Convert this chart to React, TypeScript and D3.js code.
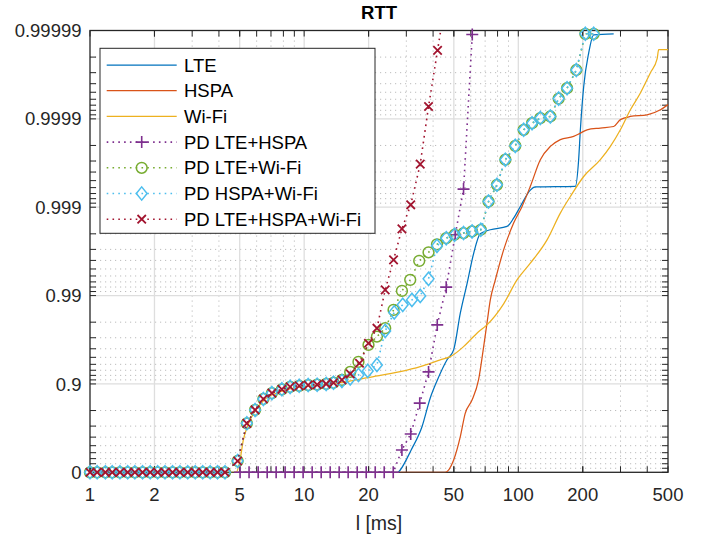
import React from 'react';
import * as d3 from 'd3';

// ---- data (latency in ms, cumulative probability) ----
const lteMs = [27.5, 28.1, 31.6, 35.5, 38.8, 41.7, 46.4, 49.9, 53.6, 57.6, 61.8, 66.4, 74.0, 88.6, 95.1, 102.2, 113.8, 120.1, 184.6, 191.3, 194.9, 202, 213.1, 224.9, 278.8];
const lteP = [0, 0.058, 0.441, 0.695, 0.856, 0.9075, 0.9465, 0.9588, 0.98418, 0.99263, 0.99663, 0.998, 0.9982, 0.99835, 0.99867, 0.99902, 0.99936, 0.99941, 0.99942, 0.99971, 0.999867, 0.999957, 0.999982, 0.9999888, 0.9999891];

const hspaMs = [27.5, 45.6, 49.9, 53.6, 56.5, 60.8, 65.2, 68.9, 71.4, 74.0, 78.1, 85.4, 95.1, 104.1, 113.8, 126.7, 141.1, 157.1, 181.3, 194.9, 209.4, 241.6, 278.8, 299.6, 333.7, 399.4, 460.9, 500];
const hspaP = [0, 0, 0.274, 0.605, 0.785, 0.848, 0.91, 0.9622, 0.97946, 0.98881, 0.99336, 0.99696, 0.99849, 0.99902, 0.99942, 0.99971, 0.999795, 0.999828, 0.999842, 0.999855, 0.999867, 0.999873, 0.999878, 0.999898, 0.999906, 0.99991, 0.999921, 0.999931];

const wifiMs = [1, 4.81, 5.02, 5.2, 5.4, 5.59, 6.45, 7.87, 9.48, 12.67, 15.83, 19.8, 28.1, 34.84, 43.2, 48.1, 55.5, 59.7, 64.1, 71.4, 85.4, 98.6, 113.8, 136.2, 157.1, 175, 202, 241.6, 269.1, 299.6, 333.7, 371.6, 413.9, 444.7, 452.4, 500];
const wifiP = [0, 0, 0.274, 0.569, 0.685, 0.744, 0.845, 0.879, 0.891, 0.899, 0.9058, 0.915, 0.9274, 0.9363, 0.9465, 0.9509, 0.9622, 0.96825, 0.97334, 0.97853, 0.9876, 0.99336, 0.9957, 0.99766, 0.998834, 0.999244, 0.999551, 0.99971, 0.999795, 0.999867, 0.999921, 0.999949, 0.99997, 0.999979, 0.9999835, 0.9999835];

const pdLteHspaMs = [5.02, 5.53, 6.1, 6.72, 7.4, 8.15, 8.98, 9.89, 10.9, 12.01, 13.23, 14.57, 16.05, 17.69, 19.49, 21.47, 23.65, 26.06, 28.61, 31.45, 34.65, 38.09, 41.83, 46.07, 50.77, 55.5, 60.95];
const pdLteHspaP = [0, 0, 0, 0, 0, 0, 0, 0, 0, 0, 0, 0, 0, 0, 0, 0, 0, 0, 0.441, 0.632, 0.835, 0.9269, 0.97853, 0.99197, 0.99795, 0.999376, 0.9999889];

// shared head of the three Wi-Fi combinations
const pdHeadMs = [1, 1.08, 1.18, 1.27, 1.38, 1.5, 1.62, 1.76, 1.91, 2.07, 2.24, 2.43, 2.63, 2.86, 3.1, 3.36, 3.64, 3.94, 4.27, 4.89, 5.4, 5.9, 6.45, 7.07, 7.87, 8.6, 9.48, 10.44, 11.5, 12.67, 13.71];
const pdHeadP = [0, 0, 0, 0, 0, 0, 0, 0, 0, 0, 0, 0, 0, 0, 0, 0, 0, 0, 0, 0.255, 0.721, 0.803, 0.852, 0.873, 0.885, 0.892, 0.895, 0.897, 0.898, 0.9, 0.903];

const pdLteWifiMs = [15.01, 16.41, 17.93, 19.97, 21.87, 23.9, 26.15, 28.61, 31.28, 34.46, 38.09, 41.7, 46.07, 50.4, 55.5, 60.8, 66.8, 72.6, 79.5, 87.0, 96.8, 105.9, 115.9, 126.7, 141.1, 154.3, 168.9, 186.6, 205.6, 224.9];
const pdLteWifiP = [0.91, 0.9269, 0.9437, 0.9638, 0.9709, 0.9766, 0.98548, 0.99115, 0.99336, 0.99595, 0.99676, 0.99737, 0.99776, 0.99795, 0.99804, 0.99812, 0.9982, 0.999138, 0.999442, 0.99971, 0.999798, 0.999867, 0.999888, 0.999902, 0.999906, 0.999941, 0.999955, 0.999972, 0.9999891, 0.9999891];

const pdHspaWifiMs = [15.01, 16.41, 17.93, 19.81, 21.87, 23.9, 26.34, 28.86, 31.86, 34.84, 38.09, 41.7, 46.07, 50.4, 55.5, 60.8, 66.8, 72.6, 79.5, 87.0, 96.8, 105.9, 115.9, 126.7, 141.1, 154.3, 168.9, 186.6, 205.6, 224.9];
const pdHspaWifiP = [0.9075, 0.9133, 0.9209, 0.9288, 0.9391, 0.9749, 0.9845, 0.98726, 0.98881, 0.98992, 0.99353, 0.99726, 0.99776, 0.99795, 0.99804, 0.99812, 0.9982, 0.999138, 0.999442, 0.99971, 0.999798, 0.999867, 0.999888, 0.999902, 0.999906, 0.999941, 0.999955, 0.999972, 0.9999891, 0.9999891];

const pdAllMs = [15.01, 16.41, 18.13, 19.97, 21.87, 23.9, 26.15, 28.61, 31.45, 34.84, 38.09, 41.97, 46.07];
const pdAllP = [0.91, 0.923, 0.9417, 0.9654, 0.9766, 0.99138, 0.99606, 0.998244, 0.999061, 0.999675, 0.9999276, 0.9999832, 0.999996];

const xTicks = [1, 2, 5, 10, 20, 50, 100, 200, 500];
const yTicks = [0, 0.9, 0.99, 0.999, 0.9999, 0.99999];
const yTickLabels = ['0', '0.9', '0.99', '0.999', '0.9999', '0.99999'];

type MarkerKind = 'none' | 'plus' | 'circle' | 'diamond' | 'x';
interface Series { name: string; color: string; ms: number[]; p: number[]; dotted: boolean; marker: MarkerKind; }

const series: Series[] = [
  { name: 'LTE', color: '#0072BD', ms: lteMs, p: lteP, dotted: false, marker: 'none' },
  { name: 'HSPA', color: '#D95319', ms: hspaMs, p: hspaP, dotted: false, marker: 'none' },
  { name: 'Wi-Fi', color: '#EDB120', ms: wifiMs, p: wifiP, dotted: false, marker: 'none' },
  { name: 'PD LTE+HSPA', color: '#7E2F8E', ms: pdLteHspaMs, p: pdLteHspaP, dotted: true, marker: 'plus' },
  { name: 'PD LTE+Wi-Fi', color: '#77AC30', ms: pdHeadMs.concat(pdLteWifiMs), p: pdHeadP.concat(pdLteWifiP), dotted: true, marker: 'circle' },
  { name: 'PD HSPA+Wi-Fi', color: '#4DBEEE', ms: pdHeadMs.concat(pdHspaWifiMs), p: pdHeadP.concat(pdHspaWifiP), dotted: true, marker: 'diamond' },
  { name: 'PD LTE+HSPA+Wi-Fi', color: '#A2142F', ms: pdHeadMs.concat(pdAllMs), p: pdHeadP.concat(pdAllP), dotted: true, marker: 'x' },
];

const W = 710, H = 538;
const left = 90, right = 668, top = 30.5, bottom = 472.3;
const FONT = '"Liberation Sans", Arial, Helvetica, sans-serif';
const AX = '#262626';

const xScale = d3.scaleLog().domain([1, 500]).range([left, right]);
// y axis is logarithmic in the tail probability 1-p
const yScale = d3.scaleLog().domain([1, 1e-5]).range([bottom, top]);
const yPos = (p: number) => yScale(1 - p);

const Marker: React.FC<{ kind: MarkerKind; x: number; y: number; color: string }> = ({ kind, x, y, color }) => {
  if (kind === 'plus') {
    return <path d={`M${x - 6},${y}H${x + 6}M${x},${y - 6}V${y + 6}`} stroke={color} strokeWidth={1.6} fill="none" />;
  }
  if (kind === 'circle') {
    return <circle cx={x} cy={y} r={5.4} stroke={color} strokeWidth={1.5} fill="none" />;
  }
  if (kind === 'diamond') {
    return <path d={`M${x},${y - 6.6}L${x + 5.4},${y}L${x},${y + 6.6}L${x - 5.4},${y}Z`} stroke={color} strokeWidth={1.5} fill="none" />;
  }
  if (kind === 'x') {
    return <path d={`M${x - 4.2},${y - 4.2}L${x + 4.2},${y + 4.2}M${x - 4.2},${y + 4.2}L${x + 4.2},${y - 4.2}`} stroke={color} strokeWidth={1.8} fill="none" />;
  }
  return null;
};

export default function App() {
  const minorX: number[] = [];
  [1, 10, 100].forEach(dec => {
    for (let k = 2; k <= 9; k++) if (k * dec < 500) minorX.push(k * dec);
  });
  const minorY: number[] = [];
  for (let n = 1; n <= 5; n++) {
    for (let k = 2; k <= 9; k++) minorY.push(k * Math.pow(10, -n));
  }
  const majorTail = yTicks.map(p => 1 - p);

  const straight = d3.line<[number, number]>()
    .x(d => xScale(d[0]))
    .y(d => yPos(d[1]));
  const smooth = d3.line<[number, number]>()
    .x(d => xScale(d[0]))
    .y(d => yPos(d[1]))
    .curve(d3.curveMonotoneX);

  const legendX = 100, legendY = 48.3, legendW = 275, legendH = 185, rowH = 25.7;
  const tl = 6;

  return (
    <svg width={W} height={H} style={{ position: 'absolute', left: 0, top: 0, background: '#fff' }} fontFamily={FONT}>
      <defs>
        <clipPath id="plotClip">
          <rect x={left} y={top} width={right - left} height={bottom - top} />
        </clipPath>
      </defs>
      <rect x={0} y={0} width={W} height={H} fill="#fff" />

      {/* grid */}
      <g>
        {minorX.filter(v => !xTicks.includes(v)).map(v => (
          <line key={`mx${v}`} x1={xScale(v)} x2={xScale(v)} y1={top} y2={bottom} stroke="#bcbcbc" strokeWidth={1} strokeDasharray="1.2 3.8" />
        ))}
        {minorY.filter(v => !majorTail.some(m => Math.abs(m - v) < 1e-12)).map(v => (
          <line key={`my${v}`} x1={left} x2={right} y1={yScale(v)} y2={yScale(v)} stroke="#bcbcbc" strokeWidth={1} strokeDasharray="1.2 3.8" />
        ))}
        {xTicks.slice(1, -1).map(v => (
          <line key={`gx${v}`} x1={xScale(v)} x2={xScale(v)} y1={top} y2={bottom} stroke="#dedede" strokeWidth={1.3} />
        ))}
        {yTicks.slice(1, -1).map(p => (
          <line key={`gy${p}`} x1={left} x2={right} y1={yPos(p)} y2={yPos(p)} stroke="#dedede" strokeWidth={1.3} />
        ))}
      </g>

      {/* axes box and ticks */}
      <rect x={left} y={top} width={right - left} height={bottom - top} fill="none" stroke={AX} strokeWidth={1.3} />
      <g stroke={AX} strokeWidth={1}>
        {xTicks.concat(minorX).map(v => (
          <g key={`tx${v}`}>
            <line x1={xScale(v)} x2={xScale(v)} y1={bottom} y2={bottom - tl} />
            <line x1={xScale(v)} x2={xScale(v)} y1={top} y2={top + tl} />
          </g>
        ))}
        {majorTail.concat(minorY).map((v, i) => (
          <g key={`ty${i}`}>
            <line x1={left} x2={left + tl} y1={yScale(v)} y2={yScale(v)} />
            <line x1={right} x2={right - tl} y1={yScale(v)} y2={yScale(v)} />
          </g>
        ))}
      </g>
      <g fill={AX} fontSize={18.5}>
        {xTicks.map(v => (
          <text key={`lx${v}`} x={xScale(v)} y={501} textAnchor="middle">{v}</text>
        ))}
        {yTicks.map((p, i) => (
          <text key={`ly${p}`} x={81.5} y={yPos(p) + 6.6} textAnchor="end">{yTickLabels[i]}</text>
        ))}
      </g>
      <text x={(left + right) / 2} y={530} textAnchor="middle" fontSize={19.5} fill={AX}>l [ms]</text>
      <text x={(left + right) / 2} y={18.5} textAnchor="middle" fontSize={18.5} fontWeight="bold" fill="#000">RTT</text>

      {/* series */}
      {series.map(s => {
        const pts: [number, number][] = s.ms.map((m, i) => [m, s.p[i]]);
        const gen = s.dotted ? straight : smooth;
        return (
          <g key={s.name}>
            <path d={gen(pts) || ''} fill="none" stroke={s.color} clipPath="url(#plotClip)"
              strokeWidth={s.dotted ? 1.6 : 1.25} strokeDasharray={s.dotted ? '1.6 4.2' : undefined} />
            {s.marker !== 'none' && pts.filter(d => 1 - d[1] >= 0.99e-5).map((d, i) => (
              <Marker key={i} kind={s.marker} x={xScale(d[0])} y={yPos(d[1])} color={s.color} />
            ))}
          </g>
        );
      })}

      {/* legend */}
      <rect x={legendX} y={legendY} width={legendW} height={legendH} fill="#fff" stroke={AX} strokeWidth={1} />
      {series.map((s, i) => {
        const cy = 65 + i * rowH;
        return (
          <g key={`leg${s.name}`}>
            <line x1={106.7} x2={176.7} y1={cy} y2={cy} stroke={s.color}
              strokeWidth={s.dotted ? 1.6 : 1.25} strokeDasharray={s.dotted ? '1.6 4.2' : undefined} />
            <Marker kind={s.marker} x={141.7} y={cy} color={s.color} />
            <text x={184} y={cy + 6.6} fontSize={18.5} fill="#000">{s.name}</text>
          </g>
        );
      })}
    </svg>
  );
}
